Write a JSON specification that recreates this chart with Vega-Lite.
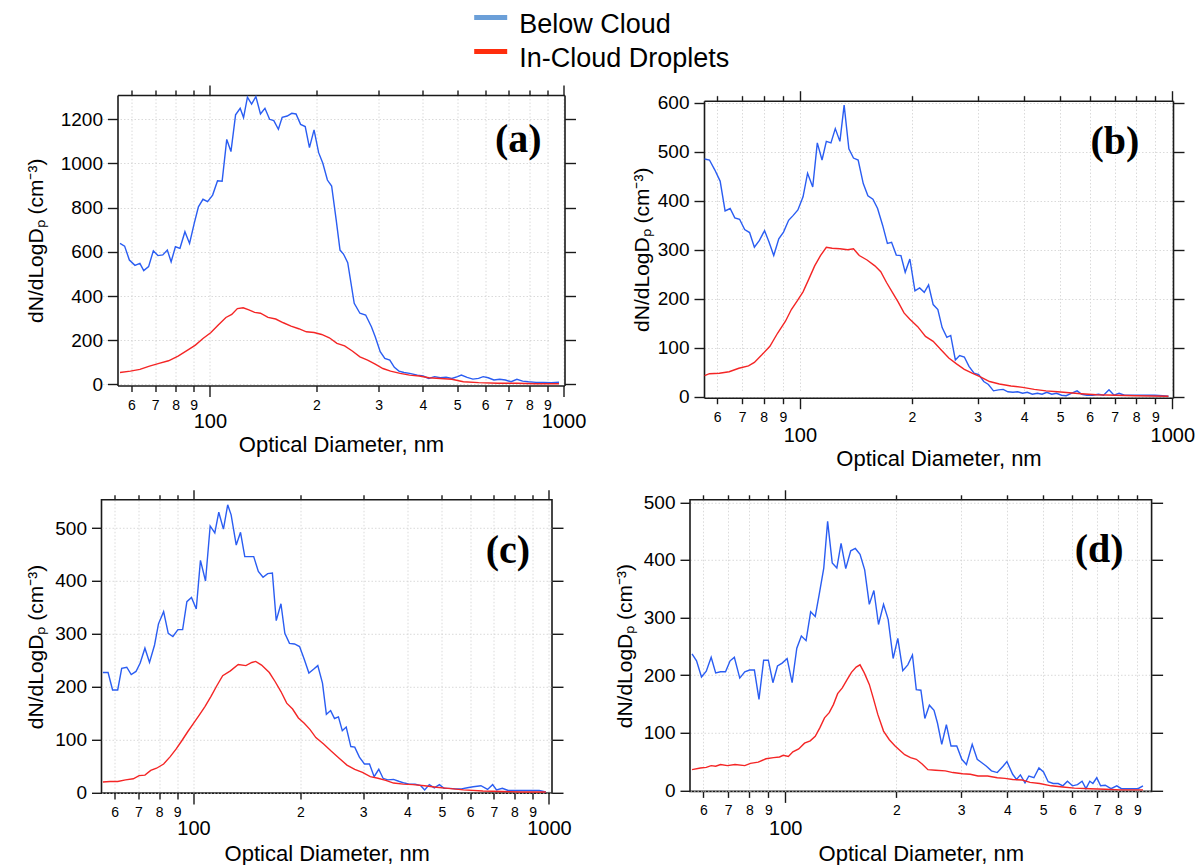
{
"$schema": "https://vega.github.io/schema/vega-lite/v6.json",
"padding": {"left": 23.5, "top": 8, "right": 0, "bottom": 0},
"datasets": {
"labels": [
{"p":"a","t":"(a)","d":745,"v":1106},
{"p":"b","t":"(b)","d":701,"v":519},
{"p":"c","t":"(c)","d":767,"v":457},
{"p":"d","t":"(d)","d":709,"v":418}
],
"curves": [
{"p":"a","s":"Below Cloud","d":55.7,"v":638},{"p":"a","s":"Below Cloud","d":57.4,"v":626},{"p":"a","s":"Below Cloud","d":59.2,"v":563},{"p":"a","s":"Below Cloud","d":61.4,"v":539},{"p":"a","s":"Below Cloud","d":63.4,"v":548},{"p":"a","s":"Below Cloud","d":65.0,"v":515},{"p":"a","s":"Below Cloud","d":67.1,"v":533},{"p":"a","s":"Below Cloud","d":69.2,"v":605},{"p":"a","s":"Below Cloud","d":71.3,"v":583},{"p":"a","s":"Below Cloud","d":73.6,"v":586},{"p":"a","s":"Below Cloud","d":75.8,"v":608},{"p":"a","s":"Below Cloud","d":77.7,"v":555},{"p":"a","s":"Below Cloud","d":79.9,"v":623},{"p":"a","s":"Below Cloud","d":82.3,"v":616},{"p":"a","s":"Below Cloud","d":85.0,"v":691},{"p":"a","s":"Below Cloud","d":87.6,"v":638},{"p":"a","s":"Below Cloud","d":90.3,"v":729},{"p":"a","s":"Below Cloud","d":92.8,"v":804},{"p":"a","s":"Below Cloud","d":95.6,"v":838},{"p":"a","s":"Below Cloud","d":98.5,"v":827},{"p":"a","s":"Below Cloud","d":101.8,"v":857},{"p":"a","s":"Below Cloud","d":105.1,"v":922},{"p":"a","s":"Below Cloud","d":108.3,"v":920},{"p":"a","s":"Below Cloud","d":111.6,"v":1109},{"p":"a","s":"Below Cloud","d":114.7,"v":1054},{"p":"a","s":"Below Cloud","d":118.2,"v":1220},{"p":"a","s":"Below Cloud","d":121.8,"v":1250},{"p":"a","s":"Below Cloud","d":124.5,"v":1208},{"p":"a","s":"Below Cloud","d":127.7,"v":1300},{"p":"a","s":"Below Cloud","d":131.2,"v":1269},{"p":"a","s":"Below Cloud","d":134.9,"v":1303},{"p":"a","s":"Below Cloud","d":139.0,"v":1224},{"p":"a","s":"Below Cloud","d":143.1,"v":1250},{"p":"a","s":"Below Cloud","d":147.5,"v":1200},{"p":"a","s":"Below Cloud","d":151.6,"v":1194},{"p":"a","s":"Below Cloud","d":156.2,"v":1155},{"p":"a","s":"Below Cloud","d":160.1,"v":1209},{"p":"a","s":"Below Cloud","d":165.4,"v":1215},{"p":"a","s":"Below Cloud","d":170.4,"v":1227},{"p":"a","s":"Below Cloud","d":175.2,"v":1224},{"p":"a","s":"Below Cloud","d":180.5,"v":1177},{"p":"a","s":"Below Cloud","d":186.0,"v":1167},{"p":"a","s":"Below Cloud","d":191.2,"v":1072},{"p":"a","s":"Below Cloud","d":197.0,"v":1152},{"p":"a","s":"Below Cloud","d":203.0,"v":1049},{"p":"a","s":"Below Cloud","d":208.6,"v":1001},{"p":"a","s":"Below Cloud","d":214.9,"v":925},{"p":"a","s":"Below Cloud","d":220.9,"v":898},{"p":"a","s":"Below Cloud","d":227.6,"v":744},{"p":"a","s":"Below Cloud","d":233.3,"v":608},{"p":"a","s":"Below Cloud","d":238.6,"v":590},{"p":"a","s":"Below Cloud","d":245.3,"v":551},{"p":"a","s":"Below Cloud","d":255.9,"v":367},{"p":"a","s":"Below Cloud","d":265.6,"v":322},{"p":"a","s":"Below Cloud","d":275.7,"v":314},{"p":"a","s":"Below Cloud","d":286.2,"v":261},{"p":"a","s":"Below Cloud","d":293.4,"v":216},{"p":"a","s":"Below Cloud","d":303.1,"v":148},{"p":"a","s":"Below Cloud","d":312.3,"v":118},{"p":"a","s":"Below Cloud","d":322.6,"v":110},{"p":"a","s":"Below Cloud","d":332.3,"v":77},{"p":"a","s":"Below Cloud","d":342.4,"v":60},{"p":"a","s":"Below Cloud","d":353.7,"v":54},{"p":"a","s":"Below Cloud","d":367.2,"v":50},{"p":"a","s":"Below Cloud","d":386.0,"v":42},{"p":"a","s":"Below Cloud","d":400.7,"v":38},{"p":"a","s":"Below Cloud","d":415.9,"v":27},{"p":"a","s":"Below Cloud","d":431.8,"v":35},{"p":"a","s":"Below Cloud","d":448.3,"v":30},{"p":"a","s":"Below Cloud","d":465.3,"v":32},{"p":"a","s":"Below Cloud","d":483.1,"v":27},{"p":"a","s":"Below Cloud","d":501.4,"v":35},{"p":"a","s":"Below Cloud","d":514.0,"v":42},{"p":"a","s":"Below Cloud","d":533.7,"v":32},{"p":"a","s":"Below Cloud","d":554.0,"v":24},{"p":"a","s":"Below Cloud","d":575.0,"v":27},{"p":"a","s":"Below Cloud","d":592.5,"v":35},{"p":"a","s":"Below Cloud","d":612.1,"v":30},{"p":"a","s":"Below Cloud","d":635.3,"v":20},{"p":"a","s":"Below Cloud","d":659.6,"v":23},{"p":"a","s":"Below Cloud","d":684.7,"v":20},{"p":"a","s":"Below Cloud","d":710.7,"v":12},{"p":"a","s":"Below Cloud","d":737.9,"v":23},{"p":"a","s":"Below Cloud","d":766.0,"v":15},{"p":"a","s":"Below Cloud","d":795.1,"v":12},{"p":"a","s":"Below Cloud","d":835.6,"v":9},{"p":"a","s":"Below Cloud","d":878.2,"v":9},{"p":"a","s":"Below Cloud","d":923.4,"v":8},{"p":"a","s":"Below Cloud","d":970.5,"v":10},
{"p":"a","s":"In-Cloud Droplets","d":55.7,"v":54},{"p":"a","s":"In-Cloud Droplets","d":59.6,"v":60},{"p":"a","s":"In-Cloud Droplets","d":63.4,"v":68},{"p":"a","s":"In-Cloud Droplets","d":67.5,"v":83},{"p":"a","s":"In-Cloud Droplets","d":71.8,"v":95},{"p":"a","s":"In-Cloud Droplets","d":76.4,"v":107},{"p":"a","s":"In-Cloud Droplets","d":81.3,"v":128},{"p":"a","s":"In-Cloud Droplets","d":86.5,"v":155},{"p":"a","s":"In-Cloud Droplets","d":91.0,"v":178},{"p":"a","s":"In-Cloud Droplets","d":95.6,"v":208},{"p":"a","s":"In-Cloud Droplets","d":100.5,"v":234},{"p":"a","s":"In-Cloud Droplets","d":105.6,"v":269},{"p":"a","s":"In-Cloud Droplets","d":111.0,"v":303},{"p":"a","s":"In-Cloud Droplets","d":115.3,"v":317},{"p":"a","s":"In-Cloud Droplets","d":119.6,"v":343},{"p":"a","s":"In-Cloud Droplets","d":124.2,"v":347},{"p":"a","s":"In-Cloud Droplets","d":128.9,"v":337},{"p":"a","s":"In-Cloud Droplets","d":133.8,"v":326},{"p":"a","s":"In-Cloud Droplets","d":139.0,"v":322},{"p":"a","s":"In-Cloud Droplets","d":146.0,"v":303},{"p":"a","s":"In-Cloud Droplets","d":153.5,"v":296},{"p":"a","s":"In-Cloud Droplets","d":161.3,"v":279},{"p":"a","s":"In-Cloud Droplets","d":169.6,"v":264},{"p":"a","s":"In-Cloud Droplets","d":178.3,"v":252},{"p":"a","s":"In-Cloud Droplets","d":187.4,"v":238},{"p":"a","s":"In-Cloud Droplets","d":197.0,"v":235},{"p":"a","s":"In-Cloud Droplets","d":207.0,"v":226},{"p":"a","s":"In-Cloud Droplets","d":217.6,"v":211},{"p":"a","s":"In-Cloud Droplets","d":228.7,"v":186},{"p":"a","s":"In-Cloud Droplets","d":240.4,"v":174},{"p":"a","s":"In-Cloud Droplets","d":252.7,"v":151},{"p":"a","s":"In-Cloud Droplets","d":265.6,"v":125},{"p":"a","s":"In-Cloud Droplets","d":279.2,"v":110},{"p":"a","s":"In-Cloud Droplets","d":293.4,"v":92},{"p":"a","s":"In-Cloud Droplets","d":308.4,"v":72},{"p":"a","s":"In-Cloud Droplets","d":324.2,"v":60},{"p":"a","s":"In-Cloud Droplets","d":345.0,"v":50},{"p":"a","s":"In-Cloud Droplets","d":367.2,"v":42},{"p":"a","s":"In-Cloud Droplets","d":390.8,"v":38},{"p":"a","s":"In-Cloud Droplets","d":415.9,"v":30},{"p":"a","s":"In-Cloud Droplets","d":448.3,"v":27},{"p":"a","s":"In-Cloud Droplets","d":483.1,"v":23},{"p":"a","s":"In-Cloud Droplets","d":520.6,"v":12},{"p":"a","s":"In-Cloud Droplets","d":575.0,"v":8},{"p":"a","s":"In-Cloud Droplets","d":651.5,"v":5},{"p":"a","s":"In-Cloud Droplets","d":737.9,"v":5},{"p":"a","s":"In-Cloud Droplets","d":835.6,"v":3},{"p":"a","s":"In-Cloud Droplets","d":970.5,"v":3},
{"p":"b","s":"Below Cloud","d":55.5,"v":485},{"p":"b","s":"Below Cloud","d":57.2,"v":483},{"p":"b","s":"Below Cloud","d":59.1,"v":463},{"p":"b","s":"Below Cloud","d":61.1,"v":440},{"p":"b","s":"Below Cloud","d":63.0,"v":379},{"p":"b","s":"Below Cloud","d":65.0,"v":384},{"p":"b","s":"Below Cloud","d":66.9,"v":365},{"p":"b","s":"Below Cloud","d":68.9,"v":362},{"p":"b","s":"Below Cloud","d":71.1,"v":341},{"p":"b","s":"Below Cloud","d":73.3,"v":335},{"p":"b","s":"Below Cloud","d":75.5,"v":305},{"p":"b","s":"Below Cloud","d":77.9,"v":319},{"p":"b","s":"Below Cloud","d":80.4,"v":339},{"p":"b","s":"Below Cloud","d":82.7,"v":315},{"p":"b","s":"Below Cloud","d":85.1,"v":288},{"p":"b","s":"Below Cloud","d":87.8,"v":322},{"p":"b","s":"Below Cloud","d":90.4,"v":336},{"p":"b","s":"Below Cloud","d":93.3,"v":360},{"p":"b","s":"Below Cloud","d":96.0,"v":370},{"p":"b","s":"Below Cloud","d":98.8,"v":381},{"p":"b","s":"Below Cloud","d":102.0,"v":408},{"p":"b","s":"Below Cloud","d":104.9,"v":456},{"p":"b","s":"Below Cloud","d":108.3,"v":428},{"p":"b","s":"Below Cloud","d":111.4,"v":518},{"p":"b","s":"Below Cloud","d":114.7,"v":483},{"p":"b","s":"Below Cloud","d":117.8,"v":521},{"p":"b","s":"Below Cloud","d":121.2,"v":518},{"p":"b","s":"Below Cloud","d":124.5,"v":547},{"p":"b","s":"Below Cloud","d":128.1,"v":521},{"p":"b","s":"Below Cloud","d":131.5,"v":595},{"p":"b","s":"Below Cloud","d":135.4,"v":506},{"p":"b","s":"Below Cloud","d":139.3,"v":487},{"p":"b","s":"Below Cloud","d":143.4,"v":483},{"p":"b","s":"Below Cloud","d":148.0,"v":435},{"p":"b","s":"Below Cloud","d":152.3,"v":410},{"p":"b","s":"Below Cloud","d":157.1,"v":403},{"p":"b","s":"Below Cloud","d":161.7,"v":384},{"p":"b","s":"Below Cloud","d":166.8,"v":350},{"p":"b","s":"Below Cloud","d":171.8,"v":313},{"p":"b","s":"Below Cloud","d":176.3,"v":315},{"p":"b","s":"Below Cloud","d":181.5,"v":289},{"p":"b","s":"Below Cloud","d":186.8,"v":288},{"p":"b","s":"Below Cloud","d":191.8,"v":254},{"p":"b","s":"Below Cloud","d":197.4,"v":281},{"p":"b","s":"Below Cloud","d":203.7,"v":216},{"p":"b","s":"Below Cloud","d":209.7,"v":222},{"p":"b","s":"Below Cloud","d":215.8,"v":213},{"p":"b","s":"Below Cloud","d":221.6,"v":228},{"p":"b","s":"Below Cloud","d":228.0,"v":188},{"p":"b","s":"Below Cloud","d":234.7,"v":178},{"p":"b","s":"Below Cloud","d":241.0,"v":141},{"p":"b","s":"Below Cloud","d":248.1,"v":121},{"p":"b","s":"Below Cloud","d":254.1,"v":125},{"p":"b","s":"Below Cloud","d":261.5,"v":75},{"p":"b","s":"Below Cloud","d":268.5,"v":84},{"p":"b","s":"Below Cloud","d":276.4,"v":81},{"p":"b","s":"Below Cloud","d":284.5,"v":62},{"p":"b","s":"Below Cloud","d":293.5,"v":48},{"p":"b","s":"Below Cloud","d":302.1,"v":45},{"p":"b","s":"Below Cloud","d":311.7,"v":31},{"p":"b","s":"Below Cloud","d":320.8,"v":25},{"p":"b","s":"Below Cloud","d":331.0,"v":12},{"p":"b","s":"Below Cloud","d":341.5,"v":14},{"p":"b","s":"Below Cloud","d":351.5,"v":15},{"p":"b","s":"Below Cloud","d":361.8,"v":10},{"p":"b","s":"Below Cloud","d":373.3,"v":9},{"p":"b","s":"Below Cloud","d":384.2,"v":10},{"p":"b","s":"Below Cloud","d":396.4,"v":7},{"p":"b","s":"Below Cloud","d":408.0,"v":9},{"p":"b","s":"Below Cloud","d":420.9,"v":5},{"p":"b","s":"Below Cloud","d":434.3,"v":7},{"p":"b","s":"Below Cloud","d":447.0,"v":5},{"p":"b","s":"Below Cloud","d":460.1,"v":9},{"p":"b","s":"Below Cloud","d":474.7,"v":5},{"p":"b","s":"Below Cloud","d":488.6,"v":7},{"p":"b","s":"Below Cloud","d":504.1,"v":3},{"p":"b","s":"Below Cloud","d":518.8,"v":2},{"p":"b","s":"Below Cloud","d":535.3,"v":7},{"p":"b","s":"Below Cloud","d":555.0,"v":12},{"p":"b","s":"Below Cloud","d":571.2,"v":5},{"p":"b","s":"Below Cloud","d":589.4,"v":3},{"p":"b","s":"Below Cloud","d":610.9,"v":3},{"p":"b","s":"Below Cloud","d":633.4,"v":5},{"p":"b","s":"Below Cloud","d":653.5,"v":3},{"p":"b","s":"Below Cloud","d":675.9,"v":14},{"p":"b","s":"Below Cloud","d":697.3,"v":3},{"p":"b","s":"Below Cloud","d":719.4,"v":7},{"p":"b","s":"Below Cloud","d":744.0,"v":3},{"p":"b","s":"Below Cloud","d":776.9,"v":3},{"p":"b","s":"Below Cloud","d":815.2,"v":3},{"p":"b","s":"Below Cloud","d":855.3,"v":3},{"p":"b","s":"Below Cloud","d":897.4,"v":3},{"p":"b","s":"Below Cloud","d":941.7,"v":2},{"p":"b","s":"Below Cloud","d":976.3,"v":1},
{"p":"b","s":"In-Cloud Droplets","d":55.5,"v":43},{"p":"b","s":"In-Cloud Droplets","d":57.2,"v":47},{"p":"b","s":"In-Cloud Droplets","d":60.8,"v":48},{"p":"b","s":"In-Cloud Droplets","d":64.6,"v":51},{"p":"b","s":"In-Cloud Droplets","d":68.6,"v":58},{"p":"b","s":"In-Cloud Droplets","d":72.8,"v":63},{"p":"b","s":"In-Cloud Droplets","d":75.5,"v":70},{"p":"b","s":"In-Cloud Droplets","d":79.2,"v":86},{"p":"b","s":"In-Cloud Droplets","d":83.1,"v":103},{"p":"b","s":"In-Cloud Droplets","d":87.2,"v":130},{"p":"b","s":"In-Cloud Droplets","d":91.5,"v":154},{"p":"b","s":"In-Cloud Droplets","d":94.9,"v":178},{"p":"b","s":"In-Cloud Droplets","d":98.3,"v":195},{"p":"b","s":"In-Cloud Droplets","d":102.0,"v":214},{"p":"b","s":"In-Cloud Droplets","d":105.7,"v":240},{"p":"b","s":"In-Cloud Droplets","d":109.6,"v":267},{"p":"b","s":"In-Cloud Droplets","d":113.6,"v":288},{"p":"b","s":"In-Cloud Droplets","d":117.8,"v":305},{"p":"b","s":"In-Cloud Droplets","d":122.1,"v":303},{"p":"b","s":"In-Cloud Droplets","d":128.1,"v":302},{"p":"b","s":"In-Cloud Droplets","d":134.4,"v":300},{"p":"b","s":"In-Cloud Droplets","d":139.3,"v":302},{"p":"b","s":"In-Cloud Droplets","d":144.4,"v":288},{"p":"b","s":"In-Cloud Droplets","d":151.5,"v":279},{"p":"b","s":"In-Cloud Droplets","d":159.0,"v":267},{"p":"b","s":"In-Cloud Droplets","d":164.9,"v":255},{"p":"b","s":"In-Cloud Droplets","d":170.9,"v":233},{"p":"b","s":"In-Cloud Droplets","d":177.2,"v":213},{"p":"b","s":"In-Cloud Droplets","d":183.7,"v":193},{"p":"b","s":"In-Cloud Droplets","d":190.4,"v":171},{"p":"b","s":"In-Cloud Droplets","d":197.4,"v":158},{"p":"b","s":"In-Cloud Droplets","d":207.2,"v":143},{"p":"b","s":"In-Cloud Droplets","d":217.4,"v":123},{"p":"b","s":"In-Cloud Droplets","d":228.0,"v":113},{"p":"b","s":"In-Cloud Droplets","d":239.3,"v":96},{"p":"b","s":"In-Cloud Droplets","d":251.1,"v":79},{"p":"b","s":"In-Cloud Droplets","d":263.4,"v":67},{"p":"b","s":"In-Cloud Droplets","d":276.4,"v":56},{"p":"b","s":"In-Cloud Droplets","d":290.0,"v":48},{"p":"b","s":"In-Cloud Droplets","d":304.3,"v":41},{"p":"b","s":"In-Cloud Droplets","d":323.1,"v":31},{"p":"b","s":"In-Cloud Droplets","d":343.2,"v":26},{"p":"b","s":"In-Cloud Droplets","d":368.8,"v":22},{"p":"b","s":"In-Cloud Droplets","d":396.4,"v":19},{"p":"b","s":"In-Cloud Droplets","d":426.0,"v":15},{"p":"b","s":"In-Cloud Droplets","d":457.9,"v":12},{"p":"b","s":"In-Cloud Droplets","d":492.0,"v":10},{"p":"b","s":"In-Cloud Droplets","d":528.9,"v":8},{"p":"b","s":"In-Cloud Droplets","d":568.4,"v":6},{"p":"b","s":"In-Cloud Droplets","d":626.0,"v":4},{"p":"b","s":"In-Cloud Droplets","d":705.7,"v":3},{"p":"b","s":"In-Cloud Droplets","d":795.8,"v":2},{"p":"b","s":"In-Cloud Droplets","d":976.3,"v":1},
{"p":"c","s":"Below Cloud","d":55.6,"v":227},{"p":"c","s":"Below Cloud","d":57.5,"v":227},{"p":"c","s":"Below Cloud","d":59.2,"v":194},{"p":"c","s":"Below Cloud","d":61.2,"v":194},{"p":"c","s":"Below Cloud","d":62.8,"v":235},{"p":"c","s":"Below Cloud","d":64.9,"v":237},{"p":"c","s":"Below Cloud","d":66.8,"v":223},{"p":"c","s":"Below Cloud","d":68.9,"v":229},{"p":"c","s":"Below Cloud","d":70.8,"v":245},{"p":"c","s":"Below Cloud","d":73.0,"v":273},{"p":"c","s":"Below Cloud","d":75.2,"v":246},{"p":"c","s":"Below Cloud","d":77.7,"v":279},{"p":"c","s":"Below Cloud","d":79.7,"v":319},{"p":"c","s":"Below Cloud","d":82.4,"v":342},{"p":"c","s":"Below Cloud","d":84.9,"v":301},{"p":"c","s":"Below Cloud","d":87.5,"v":295},{"p":"c","s":"Below Cloud","d":90.4,"v":308},{"p":"c","s":"Below Cloud","d":93.2,"v":308},{"p":"c","s":"Below Cloud","d":95.8,"v":361},{"p":"c","s":"Below Cloud","d":98.7,"v":369},{"p":"c","s":"Below Cloud","d":101.8,"v":347},{"p":"c","s":"Below Cloud","d":104.6,"v":439},{"p":"c","s":"Below Cloud","d":108.1,"v":400},{"p":"c","s":"Below Cloud","d":111.4,"v":504},{"p":"c","s":"Below Cloud","d":114.8,"v":491},{"p":"c","s":"Below Cloud","d":117.8,"v":530},{"p":"c","s":"Below Cloud","d":121.4,"v":498},{"p":"c","s":"Below Cloud","d":124.8,"v":544},{"p":"c","s":"Below Cloud","d":127.6,"v":525},{"p":"c","s":"Below Cloud","d":131.9,"v":468},{"p":"c","s":"Below Cloud","d":135.6,"v":492},{"p":"c","s":"Below Cloud","d":139.4,"v":446},{"p":"c","s":"Below Cloud","d":144.0,"v":446},{"p":"c","s":"Below Cloud","d":147.7,"v":446},{"p":"c","s":"Below Cloud","d":152.2,"v":418},{"p":"c","s":"Below Cloud","d":156.9,"v":407},{"p":"c","s":"Below Cloud","d":161.7,"v":414},{"p":"c","s":"Below Cloud","d":166.7,"v":415},{"p":"c","s":"Below Cloud","d":170.9,"v":325},{"p":"c","s":"Below Cloud","d":176.2,"v":357},{"p":"c","s":"Below Cloud","d":180.7,"v":301},{"p":"c","s":"Below Cloud","d":186.2,"v":282},{"p":"c","s":"Below Cloud","d":192.4,"v":281},{"p":"c","s":"Below Cloud","d":198.8,"v":276},{"p":"c","s":"Below Cloud","d":204.9,"v":252},{"p":"c","s":"Below Cloud","d":211.2,"v":226},{"p":"c","s":"Below Cloud","d":217.6,"v":233},{"p":"c","s":"Below Cloud","d":223.7,"v":240},{"p":"c","s":"Below Cloud","d":230.6,"v":207},{"p":"c","s":"Below Cloud","d":236.5,"v":148},{"p":"c","s":"Below Cloud","d":243.1,"v":155},{"p":"c","s":"Below Cloud","d":249.3,"v":140},{"p":"c","s":"Below Cloud","d":255.7,"v":143},{"p":"c","s":"Below Cloud","d":262.2,"v":117},{"p":"c","s":"Below Cloud","d":268.9,"v":124},{"p":"c","s":"Below Cloud","d":277.1,"v":87},{"p":"c","s":"Below Cloud","d":284.2,"v":86},{"p":"c","s":"Below Cloud","d":292.9,"v":67},{"p":"c","s":"Below Cloud","d":302.6,"v":54},{"p":"c","s":"Below Cloud","d":312.7,"v":54},{"p":"c","s":"Below Cloud","d":322.3,"v":30},{"p":"c","s":"Below Cloud","d":332.1,"v":44},{"p":"c","s":"Below Cloud","d":341.4,"v":27},{"p":"c","s":"Below Cloud","d":351.9,"v":24},{"p":"c","s":"Below Cloud","d":365.4,"v":25},{"p":"c","s":"Below Cloud","d":379.5,"v":21},{"p":"c","s":"Below Cloud","d":392.1,"v":18},{"p":"c","s":"Below Cloud","d":404.2,"v":16},{"p":"c","s":"Below Cloud","d":419.8,"v":16},{"p":"c","s":"Below Cloud","d":435.9,"v":13},{"p":"c","s":"Below Cloud","d":447.0,"v":5},{"p":"c","s":"Below Cloud","d":460.7,"v":15},{"p":"c","s":"Below Cloud","d":476.0,"v":9},{"p":"c","s":"Below Cloud","d":491.8,"v":15},{"p":"c","s":"Below Cloud","d":506.9,"v":8},{"p":"c","s":"Below Cloud","d":526.3,"v":8},{"p":"c","s":"Below Cloud","d":546.6,"v":7},{"p":"c","s":"Below Cloud","d":567.6,"v":7},{"p":"c","s":"Below Cloud","d":589.5,"v":9},{"p":"c","s":"Below Cloud","d":612.2,"v":11},{"p":"c","s":"Below Cloud","d":643.7,"v":13},{"p":"c","s":"Below Cloud","d":672.0,"v":6},{"p":"c","s":"Below Cloud","d":694.3,"v":15},{"p":"c","s":"Below Cloud","d":712.1,"v":5},{"p":"c","s":"Below Cloud","d":739.5,"v":8},{"p":"c","s":"Below Cloud","d":767.9,"v":4},{"p":"c","s":"Below Cloud","d":817.7,"v":4},{"p":"c","s":"Below Cloud","d":881.7,"v":4},{"p":"c","s":"Below Cloud","d":939.1,"v":4},{"p":"c","s":"Below Cloud","d":980.1,"v":1},
{"p":"c","s":"In-Cloud Droplets","d":55.6,"v":20},{"p":"c","s":"In-Cloud Droplets","d":58.2,"v":21},{"p":"c","s":"In-Cloud Droplets","d":61.2,"v":21},{"p":"c","s":"In-Cloud Droplets","d":64.4,"v":24},{"p":"c","s":"In-Cloud Droplets","d":67.7,"v":26},{"p":"c","s":"In-Cloud Droplets","d":70.3,"v":32},{"p":"c","s":"In-Cloud Droplets","d":73.0,"v":33},{"p":"c","s":"In-Cloud Droplets","d":75.8,"v":42},{"p":"c","s":"In-Cloud Droplets","d":78.7,"v":46},{"p":"c","s":"In-Cloud Droplets","d":82.4,"v":54},{"p":"c","s":"In-Cloud Droplets","d":86.0,"v":68},{"p":"c","s":"In-Cloud Droplets","d":89.3,"v":82},{"p":"c","s":"In-Cloud Droplets","d":92.7,"v":98},{"p":"c","s":"In-Cloud Droplets","d":96.3,"v":115},{"p":"c","s":"In-Cloud Droplets","d":100.0,"v":131},{"p":"c","s":"In-Cloud Droplets","d":103.9,"v":147},{"p":"c","s":"In-Cloud Droplets","d":107.8,"v":163},{"p":"c","s":"In-Cloud Droplets","d":112.0,"v":182},{"p":"c","s":"In-Cloud Droplets","d":116.3,"v":202},{"p":"c","s":"In-Cloud Droplets","d":120.8,"v":221},{"p":"c","s":"In-Cloud Droplets","d":127.0,"v":230},{"p":"c","s":"In-Cloud Droplets","d":133.6,"v":242},{"p":"c","s":"In-Cloud Droplets","d":140.4,"v":240},{"p":"c","s":"In-Cloud Droplets","d":145.9,"v":246},{"p":"c","s":"In-Cloud Droplets","d":149.6,"v":248},{"p":"c","s":"In-Cloud Droplets","d":155.4,"v":241},{"p":"c","s":"In-Cloud Droplets","d":163.4,"v":227},{"p":"c","s":"In-Cloud Droplets","d":169.6,"v":210},{"p":"c","s":"In-Cloud Droplets","d":176.2,"v":191},{"p":"c","s":"In-Cloud Droplets","d":182.9,"v":169},{"p":"c","s":"In-Cloud Droplets","d":190.0,"v":158},{"p":"c","s":"In-Cloud Droplets","d":197.3,"v":141},{"p":"c","s":"In-Cloud Droplets","d":204.9,"v":131},{"p":"c","s":"In-Cloud Droplets","d":212.8,"v":119},{"p":"c","s":"In-Cloud Droplets","d":220.9,"v":104},{"p":"c","s":"In-Cloud Droplets","d":232.3,"v":92},{"p":"c","s":"In-Cloud Droplets","d":244.3,"v":78},{"p":"c","s":"In-Cloud Droplets","d":256.9,"v":65},{"p":"c","s":"In-Cloud Droplets","d":270.2,"v":52},{"p":"c","s":"In-Cloud Droplets","d":284.2,"v":44},{"p":"c","s":"In-Cloud Droplets","d":298.8,"v":38},{"p":"c","s":"In-Cloud Droplets","d":314.3,"v":30},{"p":"c","s":"In-Cloud Droplets","d":330.4,"v":27},{"p":"c","s":"In-Cloud Droplets","d":347.5,"v":23},{"p":"c","s":"In-Cloud Droplets","d":365.4,"v":18},{"p":"c","s":"In-Cloud Droplets","d":389.3,"v":16},{"p":"c","s":"In-Cloud Droplets","d":414.5,"v":15},{"p":"c","s":"In-Cloud Droplets","d":447.0,"v":13},{"p":"c","s":"In-Cloud Droplets","d":482.2,"v":10},{"p":"c","s":"In-Cloud Droplets","d":519.8,"v":8},{"p":"c","s":"In-Cloud Droplets","d":574.8,"v":5},{"p":"c","s":"In-Cloud Droplets","d":651.9,"v":3},{"p":"c","s":"In-Cloud Droplets","d":739.5,"v":2},{"p":"c","s":"In-Cloud Droplets","d":838.4,"v":1},{"p":"c","s":"In-Cloud Droplets","d":980.1,"v":1},
{"p":"d","s":"Below Cloud","d":55.9,"v":237},{"p":"d","s":"Below Cloud","d":57.5,"v":225},{"p":"d","s":"Below Cloud","d":59.3,"v":197},{"p":"d","s":"Below Cloud","d":61.1,"v":207},{"p":"d","s":"Below Cloud","d":63.0,"v":231},{"p":"d","s":"Below Cloud","d":64.8,"v":204},{"p":"d","s":"Below Cloud","d":66.8,"v":206},{"p":"d","s":"Below Cloud","d":68.9,"v":206},{"p":"d","s":"Below Cloud","d":70.9,"v":225},{"p":"d","s":"Below Cloud","d":72.8,"v":231},{"p":"d","s":"Below Cloud","d":75.3,"v":195},{"p":"d","s":"Below Cloud","d":77.7,"v":206},{"p":"d","s":"Below Cloud","d":80.1,"v":209},{"p":"d","s":"Below Cloud","d":82.5,"v":209},{"p":"d","s":"Below Cloud","d":84.9,"v":158},{"p":"d","s":"Below Cloud","d":87.4,"v":226},{"p":"d","s":"Below Cloud","d":90.0,"v":226},{"p":"d","s":"Below Cloud","d":92.6,"v":187},{"p":"d","s":"Below Cloud","d":95.3,"v":216},{"p":"d","s":"Below Cloud","d":98.1,"v":221},{"p":"d","s":"Below Cloud","d":101.2,"v":229},{"p":"d","s":"Below Cloud","d":104.4,"v":187},{"p":"d","s":"Below Cloud","d":107.5,"v":247},{"p":"d","s":"Below Cloud","d":110.6,"v":268},{"p":"d","s":"Below Cloud","d":113.9,"v":260},{"p":"d","s":"Below Cloud","d":117.2,"v":310},{"p":"d","s":"Below Cloud","d":120.6,"v":302},{"p":"d","s":"Below Cloud","d":123.6,"v":340},{"p":"d","s":"Below Cloud","d":127.2,"v":386},{"p":"d","s":"Below Cloud","d":130.3,"v":467},{"p":"d","s":"Below Cloud","d":134.1,"v":395},{"p":"d","s":"Below Cloud","d":138.0,"v":386},{"p":"d","s":"Below Cloud","d":141.7,"v":429},{"p":"d","s":"Below Cloud","d":145.9,"v":385},{"p":"d","s":"Below Cloud","d":150.5,"v":416},{"p":"d","s":"Below Cloud","d":154.9,"v":420},{"p":"d","s":"Below Cloud","d":159.5,"v":410},{"p":"d","s":"Below Cloud","d":164.2,"v":383},{"p":"d","s":"Below Cloud","d":169.0,"v":323},{"p":"d","s":"Below Cloud","d":173.9,"v":347},{"p":"d","s":"Below Cloud","d":179.0,"v":288},{"p":"d","s":"Below Cloud","d":184.7,"v":323},{"p":"d","s":"Below Cloud","d":190.1,"v":297},{"p":"d","s":"Below Cloud","d":196.1,"v":229},{"p":"d","s":"Below Cloud","d":201.9,"v":264},{"p":"d","s":"Below Cloud","d":208.3,"v":208},{"p":"d","s":"Below Cloud","d":214.9,"v":218},{"p":"d","s":"Below Cloud","d":221.2,"v":235},{"p":"d","s":"Below Cloud","d":226.6,"v":175},{"p":"d","s":"Below Cloud","d":233.2,"v":174},{"p":"d","s":"Below Cloud","d":239.0,"v":125},{"p":"d","s":"Below Cloud","d":245.9,"v":148},{"p":"d","s":"Below Cloud","d":253.1,"v":139},{"p":"d","s":"Below Cloud","d":258.6,"v":117},{"p":"d","s":"Below Cloud","d":265.6,"v":80},{"p":"d","s":"Below Cloud","d":273.4,"v":114},{"p":"d","s":"Below Cloud","d":281.4,"v":77},{"p":"d","s":"Below Cloud","d":291.7,"v":77},{"p":"d","s":"Below Cloud","d":301.0,"v":54},{"p":"d","s":"Below Cloud","d":309.8,"v":45},{"p":"d","s":"Below Cloud","d":321.2,"v":80},{"p":"d","s":"Below Cloud","d":331.4,"v":54},{"p":"d","s":"Below Cloud","d":341.1,"v":48},{"p":"d","s":"Below Cloud","d":351.1,"v":42},{"p":"d","s":"Below Cloud","d":362.2,"v":34},{"p":"d","s":"Below Cloud","d":375.6,"v":31},{"p":"d","s":"Below Cloud","d":389.4,"v":42},{"p":"d","s":"Below Cloud","d":398.9,"v":50},{"p":"d","s":"Below Cloud","d":413.5,"v":28},{"p":"d","s":"Below Cloud","d":423.6,"v":19},{"p":"d","s":"Below Cloud","d":433.9,"v":27},{"p":"d","s":"Below Cloud","d":446.6,"v":13},{"p":"d","s":"Below Cloud","d":457.5,"v":25},{"p":"d","s":"Below Cloud","d":472.1,"v":22},{"p":"d","s":"Below Cloud","d":487.1,"v":39},{"p":"d","s":"Below Cloud","d":501.3,"v":32},{"p":"d","s":"Below Cloud","d":516.0,"v":15},{"p":"d","s":"Below Cloud","d":532.4,"v":12},{"p":"d","s":"Below Cloud","d":549.3,"v":12},{"p":"d","s":"Below Cloud","d":565.5,"v":8},{"p":"d","s":"Below Cloud","d":582.0,"v":16},{"p":"d","s":"Below Cloud","d":600.5,"v":8},{"p":"d","s":"Below Cloud","d":619.6,"v":10},{"p":"d","s":"Below Cloud","d":637.7,"v":16},{"p":"d","s":"Below Cloud","d":653.2,"v":3},{"p":"d","s":"Below Cloud","d":669.1,"v":16},{"p":"d","s":"Below Cloud","d":682.2,"v":12},{"p":"d","s":"Below Cloud","d":698.8,"v":22},{"p":"d","s":"Below Cloud","d":715.8,"v":8},{"p":"d","s":"Below Cloud","d":736.8,"v":9},{"p":"d","s":"Below Cloud","d":763.8,"v":3},{"p":"d","s":"Below Cloud","d":791.8,"v":8},{"p":"d","s":"Below Cloud","d":815.1,"v":3},{"p":"d","s":"Below Cloud","d":841.1,"v":3},{"p":"d","s":"Below Cloud","d":871.7,"v":3},{"p":"d","s":"Below Cloud","d":903.8,"v":3},{"p":"d","s":"Below Cloud","d":932.5,"v":8},
{"p":"d","s":"In-Cloud Droplets","d":55.9,"v":36},{"p":"d","s":"In-Cloud Droplets","d":58.9,"v":39},{"p":"d","s":"In-Cloud Droplets","d":61.1,"v":40},{"p":"d","s":"In-Cloud Droplets","d":63.0,"v":43},{"p":"d","s":"In-Cloud Droplets","d":64.8,"v":42},{"p":"d","s":"In-Cloud Droplets","d":66.8,"v":45},{"p":"d","s":"In-Cloud Droplets","d":69.7,"v":43},{"p":"d","s":"In-Cloud Droplets","d":73.1,"v":45},{"p":"d","s":"In-Cloud Droplets","d":77.7,"v":43},{"p":"d","s":"In-Cloud Droplets","d":80.5,"v":47},{"p":"d","s":"In-Cloud Droplets","d":84.5,"v":49},{"p":"d","s":"In-Cloud Droplets","d":88.7,"v":55},{"p":"d","s":"In-Cloud Droplets","d":93.0,"v":57},{"p":"d","s":"In-Cloud Droplets","d":96.5,"v":58},{"p":"d","s":"In-Cloud Droplets","d":98.8,"v":61},{"p":"d","s":"In-Cloud Droplets","d":102.0,"v":59},{"p":"d","s":"In-Cloud Droplets","d":104.9,"v":67},{"p":"d","s":"In-Cloud Droplets","d":108.8,"v":72},{"p":"d","s":"In-Cloud Droplets","d":112.8,"v":82},{"p":"d","s":"In-Cloud Droplets","d":116.9,"v":86},{"p":"d","s":"In-Cloud Droplets","d":120.6,"v":94},{"p":"d","s":"In-Cloud Droplets","d":124.2,"v":109},{"p":"d","s":"In-Cloud Droplets","d":127.8,"v":126},{"p":"d","s":"In-Cloud Droplets","d":131.6,"v":135},{"p":"d","s":"In-Cloud Droplets","d":135.1,"v":149},{"p":"d","s":"In-Cloud Droplets","d":138.7,"v":168},{"p":"d","s":"In-Cloud Droplets","d":142.8,"v":178},{"p":"d","s":"In-Cloud Droplets","d":147.0,"v":192},{"p":"d","s":"In-Cloud Droplets","d":151.2,"v":205},{"p":"d","s":"In-Cloud Droplets","d":155.7,"v":214},{"p":"d","s":"In-Cloud Droplets","d":159.5,"v":218},{"p":"d","s":"In-Cloud Droplets","d":163.8,"v":204},{"p":"d","s":"In-Cloud Droplets","d":169.0,"v":184},{"p":"d","s":"In-Cloud Droplets","d":173.1,"v":161},{"p":"d","s":"In-Cloud Droplets","d":178.2,"v":132},{"p":"d","s":"In-Cloud Droplets","d":184.7,"v":103},{"p":"d","s":"In-Cloud Droplets","d":191.5,"v":88},{"p":"d","s":"In-Cloud Droplets","d":198.5,"v":77},{"p":"d","s":"In-Cloud Droplets","d":205.8,"v":68},{"p":"d","s":"In-Cloud Droplets","d":210.8,"v":62},{"p":"d","s":"In-Cloud Droplets","d":218.6,"v":57},{"p":"d","s":"In-Cloud Droplets","d":226.6,"v":54},{"p":"d","s":"In-Cloud Droplets","d":235.0,"v":46},{"p":"d","s":"In-Cloud Droplets","d":243.6,"v":36},{"p":"d","s":"In-Cloud Droplets","d":255.6,"v":35},{"p":"d","s":"In-Cloud Droplets","d":271.5,"v":34},{"p":"d","s":"In-Cloud Droplets","d":284.8,"v":31},{"p":"d","s":"In-Cloud Droplets","d":302.5,"v":29},{"p":"d","s":"In-Cloud Droplets","d":317.4,"v":28},{"p":"d","s":"In-Cloud Droplets","d":333.0,"v":25},{"p":"d","s":"In-Cloud Droplets","d":353.6,"v":25},{"p":"d","s":"In-Cloud Droplets","d":375.6,"v":22},{"p":"d","s":"In-Cloud Droplets","d":394.1,"v":21},{"p":"d","s":"In-Cloud Droplets","d":413.5,"v":19},{"p":"d","s":"In-Cloud Droplets","d":439.1,"v":18},{"p":"d","s":"In-Cloud Droplets","d":460.8,"v":14},{"p":"d","s":"In-Cloud Droplets","d":489.5,"v":12},{"p":"d","s":"In-Cloud Droplets","d":526.0,"v":8},{"p":"d","s":"In-Cloud Droplets","d":565.5,"v":6},{"p":"d","s":"In-Cloud Droplets","d":607.7,"v":4},{"p":"d","s":"In-Cloud Droplets","d":669.1,"v":3},{"p":"d","s":"In-Cloud Droplets","d":736.8,"v":2},{"p":"d","s":"In-Cloud Droplets","d":811.1,"v":1},{"p":"d","s":"In-Cloud Droplets","d":932.5,"v":1}
]
},
"spacing": 17.8,
"vconcat": [
{"spacing": 44.5, "hconcat": [
{"width": 463, "height": 290.5, "view": {"stroke": null},
 "resolve": {"axis": {"x": "independent", "y": "independent"}},
 "layer": [
  {"data": {"name": "curves"}, "transform": [{"filter": "datum.p === 'a'"}],
   "mark": {"type": "line", "strokeWidth": 1.4},
   "encoding": {
    "x": {"field": "d", "type": "quantitative", "scale": {"type": "log", "domain": [54.8, 1006], "nice": false, "range": [16, 463]}, "axis": {"orient": "bottom", "values": [60,70,80,90,200,300,400,500,600,700,800,900], "tickSize": 6, "labelPadding": 6.5, "labelFontSize": 14, "labelExpr": "datum.value < 100 ? datum.value / 10 : datum.value / 100", "grid": true, "title": null}},
    "y": {"field": "v", "type": "quantitative", "scale": {"domain": [-5, 1310], "nice": false, "zero": false}, "axis": {"orient": "left", "offset": -16, "domain": true, "domainColor": "#1a1a1a", "domainWidth": 1.6, "values": [0,200,400,600,800,1000,1200], "format": "d", "tickSize": 10, "labelPadding": 5, "labelFontSize": 19, "grid": false, "title": "dN/dLogDₚ (cm⁻³)", "titleFontSize": 21, "titlePadding": 14}},
    "color": {"field": "s", "type": "nominal", "scale": {"domain": ["Below Cloud", "In-Cloud Droplets"], "range": ["#2a5df2", "#f42525"]}, "legend": null}
   }},
  {"data": {"name": "labels"}, "transform": [{"filter": "datum.p === 'a'"}],
   "mark": {"type": "text", "font": "Liberation Serif", "fontWeight": "bold", "fontSize": 40, "color": "#000"},
   "encoding": {
    "x": {"field": "d", "type": "quantitative", "scale": {"type": "log", "domain": [54.8, 1006], "nice": false, "range": [16, 463]}, "axis": {"orient": "bottom", "domain": true, "domainColor": "#1a1a1a", "domainWidth": 1.6, "values": [100, 1000], "format": "d", "tickSize": 11, "labelPadding": 14.5, "labelFontSize": 20, "grid": true, "title": "Optical Diameter, nm", "titleFontSize": 22, "titlePadding": 3.4}},
    "y": {"field": "v", "type": "quantitative", "scale": {"domain": [-5, 1310], "nice": false, "zero": false}, "axis": {"orient": "right", "domain": true, "domainColor": "#1a1a1a", "domainWidth": 1.6, "values": [0,200,400,600,800,1000,1200], "tickSize": 11, "labels": false, "grid": true, "title": null}},
    "text": {"field": "t"}
   }},
  {"data": {"name": "curves"}, "transform": [{"filter": "datum.p === 'a'"}],
   "mark": {"type": "point", "filled": true, "opacity": 0},
   "encoding": {
    "x": {"field": "d", "type": "quantitative", "scale": {"type": "log", "domain": [54.8, 1006], "nice": false, "range": [16, 463]}, "axis": {"orient": "top", "values": [60,70,80,90,200,300,400,500,600,700,800,900], "tickSize": 5, "labels": false, "grid": false, "title": null}},
    "y": {"field": "v", "type": "quantitative", "scale": {"domain": [-5, 1310], "nice": false, "zero": false}, "axis": null},
    "fill": {"field": "s", "type": "nominal", "scale": {"range": ["#6b9fd8", "#ff2d0d"]},
      "legend": {"orient": "none", "legendX": 372.7, "legendY": -87, "direction": "vertical", "title": null, "symbolType": "M-1,-0.57H1V-0.27H-1Z", "symbolSize": 1089, "symbolStrokeWidth": 0, "symbolOpacity": 1, "labelFontSize": 27, "labelFont": "Liberation Sans", "labelColor": "#000", "labelLimit": 400, "labelOffset": 12, "rowPadding": 4}}
   }},
  {"data": {"name": "labels"}, "transform": [{"filter": "datum.p === 'a'"}],
   "mark": {"type": "point", "opacity": 0},
   "encoding": {
    "x": {"field": "d", "type": "quantitative", "scale": {"type": "log", "domain": [54.8, 1006], "nice": false, "range": [16, 463]}, "axis": {"orient": "top", "domain": true, "domainColor": "#1a1a1a", "domainWidth": 1.6, "values": [100, 1000], "tickSize": 10, "labels": false, "grid": false, "title": null}},
    "y": {"field": "v", "type": "quantitative", "scale": {"domain": [-5, 1310], "nice": false, "zero": false}, "axis": null}
   }}
 ]},
{"width": 469, "height": 302.7, "view": {"stroke": null},
 "resolve": {"axis": {"x": "independent", "y": "independent"}},
 "layer": [
  {"data": {"name": "curves"}, "transform": [{"filter": "datum.p === 'b'"}],
   "mark": {"type": "line", "strokeWidth": 1.4},
   "encoding": {
    "x": {"field": "d", "type": "quantitative", "scale": {"type": "log", "domain": [55.3, 1004], "nice": false}, "axis": {"orient": "bottom", "values": [60,70,80,90,200,300,400,500,600,700,800,900], "tickSize": 6, "labelPadding": 6.5, "labelFontSize": 14, "labelExpr": "datum.value < 100 ? datum.value / 10 : datum.value / 100", "grid": true, "title": null}},
    "y": {"field": "v", "type": "quantitative", "scale": {"domain": [-2, 604], "nice": false, "zero": false, "range": [302.7, 5.7]}, "axis": {"orient": "left", "domain": true, "domainColor": "#1a1a1a", "domainWidth": 1.6, "values": [0,100,200,300,400,500,600], "format": "d", "tickSize": 10, "labelPadding": 5, "labelFontSize": 19, "grid": true, "title": "dN/dLogDₚ (cm⁻³)", "titleFontSize": 21, "titlePadding": 5}},
    "color": {"field": "s", "type": "nominal", "scale": {"domain": ["Below Cloud", "In-Cloud Droplets"], "range": ["#2a5df2", "#f42525"]}, "legend": null}
   }},
  {"data": {"name": "labels"}, "transform": [{"filter": "datum.p === 'b'"}],
   "mark": {"type": "text", "font": "Liberation Serif", "fontWeight": "bold", "fontSize": 40, "color": "#000"},
   "encoding": {
    "x": {"field": "d", "type": "quantitative", "scale": {"type": "log", "domain": [55.3, 1004], "nice": false}, "axis": {"orient": "bottom", "domain": true, "domainColor": "#1a1a1a", "domainWidth": 1.6, "values": [100, 1000], "format": "d", "tickSize": 11, "labelPadding": 16.5, "labelFontSize": 20, "grid": true, "title": "Optical Diameter, nm", "titleFontSize": 22, "titlePadding": 3.2}},
    "y": {"field": "v", "type": "quantitative", "scale": {"domain": [-2, 604], "nice": false, "zero": false, "range": [302.7, 5.7]}, "axis": {"orient": "right", "domain": true, "domainColor": "#1a1a1a", "domainWidth": 1.6, "values": [0,100,200,300,400,500,600], "tickSize": 11, "labels": false, "grid": false, "title": null}},
    "text": {"field": "t"}
   }},
  {"data": {"name": "labels"}, "transform": [{"filter": "datum.p === 'b'"}],
   "mark": {"type": "point", "opacity": 0},
   "encoding": {
    "x": {"field": "d", "type": "quantitative", "scale": {"type": "log", "domain": [55.3, 1004], "nice": false}, "axis": {"orient": "top", "offset": -5.7, "values": [60,70,80,90,200,300,400,500,600,700,800,900], "tickSize": 5, "labels": false, "grid": false, "title": null}},
    "y": {"field": "v", "type": "quantitative", "scale": {"domain": [-2, 604], "nice": false, "zero": false, "range": [302.7, 5.7]}, "axis": null}
   }},
  {"data": {"name": "labels"}, "transform": [{"filter": "datum.p === 'b'"}],
   "mark": {"type": "point", "opacity": 0},
   "encoding": {
    "x": {"field": "d", "type": "quantitative", "scale": {"type": "log", "domain": [55.3, 1004], "nice": false}, "axis": {"orient": "top", "offset": -5.7, "domain": true, "domainColor": "#1a1a1a", "domainWidth": 1.6, "values": [100, 1000], "tickSize": 10, "labels": false, "grid": false, "title": null}},
    "y": {"field": "v", "type": "quantitative", "scale": {"domain": [-2, 604], "nice": false, "zero": false, "range": [302.7, 5.7]}, "axis": null}
   }}
 ]}
]},
{"spacing": 40.5, "hconcat": [
{"width": 450.5, "height": 293.3,
 "resolve": {"axis": {"x": "independent", "y": "independent"}},
 "layer": [
  {"data": {"name": "curves"}, "transform": [{"filter": "datum.p === 'c'"}],
   "mark": {"type": "line", "strokeWidth": 1.4},
   "encoding": {
    "x": {"field": "d", "type": "quantitative", "scale": {"type": "log", "domain": [55.1, 1020], "nice": false}, "axis": {"orient": "bottom", "values": [60,70,80,90,200,300,400,500,600,700,800,900], "tickSize": 6, "labelPadding": 6.5, "labelFontSize": 14, "labelExpr": "datum.value < 100 ? datum.value / 10 : datum.value / 100", "grid": true, "title": null}},
    "y": {"field": "v", "type": "quantitative", "scale": {"domain": [-1, 553.5], "nice": false, "zero": false}, "axis": {"orient": "left", "values": [0,100,200,300,400,500], "format": "d", "tickSize": 10, "labelPadding": 5, "labelFontSize": 19, "grid": true, "title": "dN/dLogDₚ (cm⁻³)", "titleFontSize": 21, "titlePadding": 8.6}},
    "color": {"field": "s", "type": "nominal", "scale": {"domain": ["Below Cloud", "In-Cloud Droplets"], "range": ["#2a5df2", "#f42525"]}, "legend": null}
   }},
  {"data": {"name": "labels"}, "transform": [{"filter": "datum.p === 'c'"}],
   "mark": {"type": "text", "font": "Liberation Serif", "fontWeight": "bold", "fontSize": 40, "color": "#000"},
   "encoding": {
    "x": {"field": "d", "type": "quantitative", "scale": {"type": "log", "domain": [55.1, 1020], "nice": false}, "axis": {"orient": "bottom", "values": [100, 1000], "format": "d", "tickSize": 11, "labelPadding": 14, "labelFontSize": 20, "grid": true, "title": "Optical Diameter, nm", "titleFontSize": 22, "titlePadding": 5}},
    "y": {"field": "v", "type": "quantitative", "scale": {"domain": [-1, 553.5], "nice": false, "zero": false}, "axis": {"orient": "right", "values": [0,100,200,300,400,500], "tickSize": 11, "labels": false, "grid": false, "title": null}},
    "text": {"field": "t"}
   }},
  {"data": {"name": "labels"}, "transform": [{"filter": "datum.p === 'c'"}],
   "mark": {"type": "point", "opacity": 0},
   "encoding": {
    "x": {"field": "d", "type": "quantitative", "scale": {"type": "log", "domain": [55.1, 1020], "nice": false}, "axis": {"orient": "top", "values": [60,70,80,90,200,300,400,500,600,700,800,900], "tickSize": 5, "labels": false, "grid": false, "title": null}},
    "y": {"field": "v", "type": "quantitative", "scale": {"domain": [-1, 553.5], "nice": false, "zero": false}, "axis": null}
   }},
  {"data": {"name": "labels"}, "transform": [{"filter": "datum.p === 'c'"}],
   "mark": {"type": "point", "opacity": 0},
   "encoding": {
    "x": {"field": "d", "type": "quantitative", "scale": {"type": "log", "domain": [55.1, 1020], "nice": false}, "axis": {"orient": "top", "values": [100, 1000], "tickSize": 10, "labels": false, "grid": false, "title": null}},
    "y": {"field": "v", "type": "quantitative", "scale": {"domain": [-1, 553.5], "nice": false, "zero": false}, "axis": null}
   }}
 ]},
{"width": 461.6, "height": 291.6,
 "resolve": {"axis": {"x": "independent", "y": "independent"}},
 "layer": [
  {"data": {"name": "curves"}, "transform": [{"filter": "datum.p === 'd'"}],
   "mark": {"type": "line", "strokeWidth": 1.4},
   "encoding": {
    "x": {"field": "d", "type": "quantitative", "scale": {"type": "log", "domain": [55.2, 984], "nice": false}, "axis": {"orient": "bottom", "values": [60,70,80,90,200,300,400,500,600,700,800,900], "tickSize": 6, "labelPadding": 6.5, "labelFontSize": 14, "labelExpr": "datum.value < 100 ? datum.value / 10 : datum.value / 100", "grid": true, "title": null}},
    "y": {"field": "v", "type": "quantitative", "scale": {"domain": [-1.7, 504.5], "nice": false, "zero": false}, "axis": {"orient": "left", "values": [0,100,200,300,400,500], "format": "d", "tickSize": 10, "labelPadding": 5, "labelFontSize": 19, "grid": true, "title": "dN/dLogDₚ (cm⁻³)", "titleFontSize": 21, "titlePadding": 8}},
    "color": {"field": "s", "type": "nominal", "scale": {"domain": ["Below Cloud", "In-Cloud Droplets"], "range": ["#2a5df2", "#f42525"]}, "legend": null}
   }},
  {"data": {"name": "labels"}, "transform": [{"filter": "datum.p === 'd'"}],
   "mark": {"type": "text", "font": "Liberation Serif", "fontWeight": "bold", "fontSize": 40, "color": "#000"},
   "encoding": {
    "x": {"field": "d", "type": "quantitative", "scale": {"type": "log", "domain": [55.2, 984], "nice": false}, "axis": {"orient": "bottom", "values": [100], "format": "d", "tickSize": 11, "labelPadding": 16, "labelFontSize": 20, "grid": true, "title": "Optical Diameter, nm", "titleFontSize": 22, "titlePadding": 4.8}},
    "y": {"field": "v", "type": "quantitative", "scale": {"domain": [-1.7, 504.5], "nice": false, "zero": false}, "axis": {"orient": "right", "values": [0,100,200,300,400,500], "tickSize": 11, "labels": false, "grid": false, "title": null}},
    "text": {"field": "t"}
   }},
  {"data": {"name": "labels"}, "transform": [{"filter": "datum.p === 'd'"}],
   "mark": {"type": "point", "opacity": 0},
   "encoding": {
    "x": {"field": "d", "type": "quantitative", "scale": {"type": "log", "domain": [55.2, 984], "nice": false}, "axis": {"orient": "top", "values": [60,70,80,90,200,300,400,500,600,700,800,900], "tickSize": 5, "labels": false, "grid": false, "title": null}},
    "y": {"field": "v", "type": "quantitative", "scale": {"domain": [-1.7, 504.5], "nice": false, "zero": false}, "axis": null}
   }},
  {"data": {"name": "labels"}, "transform": [{"filter": "datum.p === 'd'"}],
   "mark": {"type": "point", "opacity": 0},
   "encoding": {
    "x": {"field": "d", "type": "quantitative", "scale": {"type": "log", "domain": [55.2, 984], "nice": false}, "axis": {"orient": "top", "values": [100], "tickSize": 10, "labels": false, "grid": false, "title": null}},
    "y": {"field": "v", "type": "quantitative", "scale": {"domain": [-1.7, 504.5], "nice": false, "zero": false}, "axis": null}
   }}
 ]}
]}
],
"config": {
 "view": {"stroke": "#1a1a1a", "strokeWidth": 1.6},
 "font": "Liberation Sans",
 "axis": {"labelFont": "Liberation Sans", "titleFont": "Liberation Sans", "labelColor": "#000", "titleColor": "#000", "tickColor": "#1a1a1a", "tickWidth": 1.4, "domain": false, "gridColor": "#d0d0d0", "gridDash": [1.5, 2], "gridWidth": 0.8, "titleFontWeight": "normal", "labelOverlap": false, "labelFlush": false, "labelBound": false}
}
}
